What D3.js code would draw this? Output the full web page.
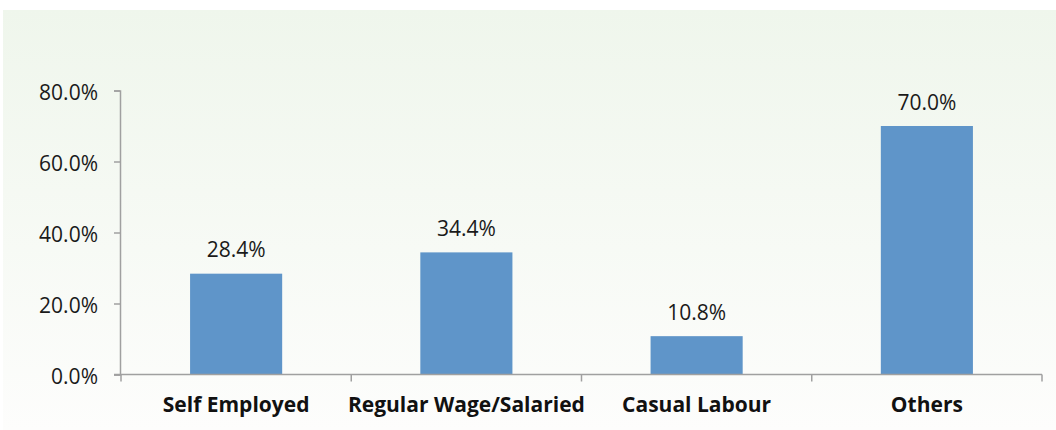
<!DOCTYPE html>
<html>
<head>
<meta charset="utf-8">
<script src="https://cdn.jsdelivr.net/npm/d3@7"></script>
<style>
  html, body { margin: 0; padding: 0; background: #ffffff; }
  svg { display: block; font-family: "Open Sans", "Noto Sans", sans-serif; }
</style>
</head>
<body>
<svg id="chart" width="1056" height="430"></svg>
<script>
// Employment category shares
const categories = ["Self Employed", "Regular Wage/Salaried", "Casual Labour", "Others"];
const shares = [28.4, 34.4, 10.8, 70.0];
const yTicks = [0, 20, 40, 60, 80];

const svg = d3.select("#chart");
const W = 1056, H = 430;
const margin = { left: 120 };
const FS = 21;

// Soft green panel background
const defs = svg.append("defs");
const grad = defs.append("linearGradient")
  .attr("id", "panelGrad").attr("x1", 0).attr("y1", 0).attr("x2", 0).attr("y2", 1);
grad.append("stop").attr("offset", "0%").attr("stop-color", "#eff6ec");
grad.append("stop").attr("offset", "100%").attr("stop-color", "#fdfdfc");
svg.append("rect").attr("x", 3).attr("y", 10).attr("width", W - 3).attr("height", H - 10)
  .attr("fill", "url(#panelGrad)");

const x = d3.scaleBand()
  .domain(categories)
  .range([margin.left + 1, 1042])
  .paddingInner(0.6).paddingOuter(0.3);

const y = d3.scaleLinear().domain([0, 80]).range([374.5, 90.5]);

// Bars
svg.append("g").selectAll("rect").data(categories).join("rect")
  .attr("x", d => x(d))
  .attr("width", x.bandwidth())
  .attr("y", (d, i) => y(shares[i]))
  .attr("height", (d, i) => y(0) - y(shares[i]))
  .attr("fill", "#5f95c9");

// Value labels
svg.append("g").selectAll("text").data(categories).join("text")
  .attr("x", d => x(d) + x.bandwidth() / 2)
  .attr("y", (d, i) => y(shares[i]) - 16.5)
  .attr("text-anchor", "middle")
  .attr("font-size", FS)
  .attr("fill", "#1a1a1a")
  .text((d, i) => shares[i].toFixed(1) + "%");

// Y axis
const yAxis = svg.append("g")
  .attr("transform", `translate(${margin.left},0)`)
  .call(d3.axisLeft(y).tickValues(yTicks).tickSize(6).tickPadding(16)
    .tickFormat(d => d.toFixed(1) + "%"));
yAxis.select(".domain").attr("stroke", "#a0a0a0").attr("stroke-width", 1.5);
yAxis.selectAll(".tick line").attr("stroke", "#a0a0a0").attr("stroke-width", 1.5);
yAxis.selectAll(".tick text").attr("font-size", FS).attr("fill", "#1a1a1a")
  .attr("dy", "0.42em")
  .attr("font-family", "\"Open Sans\", sans-serif");

// X axis with boundary ticks between categories
const step = x.step();
const start = x.range()[0];
const boundaries = d3.range(categories.length + 1).map(i => start + i * step);
const xg = svg.append("g");
xg.append("line")
  .attr("x1", margin.left - 6).attr("x2", boundaries[boundaries.length - 1])
  .attr("y1", y(0)).attr("y2", y(0))
  .attr("stroke", "#a0a0a0").attr("stroke-width", 1.5);
xg.selectAll("line.bt").data(boundaries).join("line")
  .attr("class", "bt")
  .attr("x1", d => d).attr("x2", d => d)
  .attr("y1", y(0)).attr("y2", y(0) + 7)
  .attr("stroke", "#a0a0a0").attr("stroke-width", 1.5);
xg.selectAll("text").data(categories).join("text")
  .attr("x", d => x(d) + x.bandwidth() / 2)
  .attr("y", 412)
  .attr("text-anchor", "middle")
  .attr("font-size", FS)
  .attr("font-weight", "bold")
  .attr("fill", "#111")
  .text(d => d);
</script>
</body>
</html>
